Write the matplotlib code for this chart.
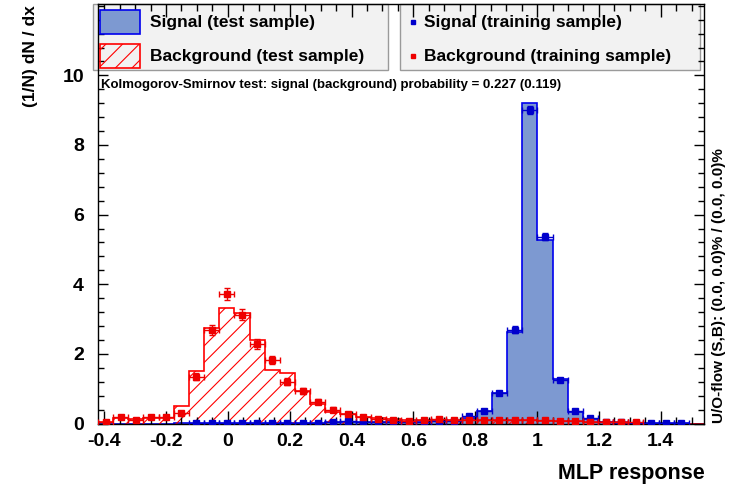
import numpy as np
import matplotlib
matplotlib.use("Agg")
import matplotlib.pyplot as plt
from matplotlib.patches import Rectangle
from matplotlib.ticker import MultipleLocator

# ---------------- data ----------------
x_min, x_max, n_bins = -0.42, 1.54, 40

sig_test = [0, 0, 0, 0, 0, 0.005, 0.01, 0.01, 0.01, 0.01,
            0.01, 0.01, 0.01, 0.01, 0.02, 0.03, 0.04, 0.04, 0.04, 0.04,
            0.04, 0.05, 0.06, 0.08, 0.17, 0.37, 0.87, 2.62, 9.20, 5.27,
            1.27, 0.34, 0.13, 0.04, 0.02, 0.01, 0.005, 0.005, 0.005, 0]
sig_train = [0, 0, 0, 0, 0, 0, 0.01, 0.01, 0.01, 0.02,
             0.02, 0.02, 0.02, 0.02, 0.02, 0.04, 0.06, 0.05, 0.04, 0.05,
             0.04, 0.05, 0.06, 0.08, 0.22, 0.37, 0.87, 2.70, 9.00, 5.37,
             1.25, 0.36, 0.15, 0.05, 0.03, 0.02, 0.01, 0.01, 0.01, 0]
sig_train_err = [0, 0, 0, 0, 0, 0, 0.01, 0.01, 0.01, 0.01,
                 0.01, 0.01, 0.01, 0.01, 0.01, 0.02, 0.02, 0.02, 0.02, 0.02,
                 0.02, 0.02, 0.02, 0.03, 0.04, 0.05, 0.06, 0.09, 0.12, 0.10,
                 0.05, 0.04, 0.03, 0.02, 0.02, 0.01, 0.01, 0.01, 0.01, 0]
bkg_test = [0.05, 0.15, 0.12, 0.17, 0.17, 0.50, 1.52, 2.75, 3.33, 3.17,
            2.40, 1.54, 1.46, 0.94, 0.55, 0.34, 0.26, 0.20, 0.15, 0.12,
            0.10, 0.10, 0.10, 0.10, 0.10, 0.10, 0.09, 0.09, 0.09, 0.08,
            0.06, 0.06, 0.05, 0.04, 0.03, 0.02, 0, 0, 0, 0]
bkg_train = [0.03, 0.18, 0.10, 0.19, 0.19, 0.31, 1.35, 2.69, 3.71, 3.12,
             2.28, 1.82, 1.20, 0.93, 0.63, 0.40, 0.27, 0.19, 0.14, 0.10,
             0.07, 0.10, 0.12, 0.10, 0.10, 0.10, 0.10, 0.10, 0.10, 0.09,
             0.06, 0.06, 0.05, 0.05, 0.05, 0.04, 0, 0, 0, 0]
bkg_train_err = [0.02, 0.04, 0.03, 0.04, 0.04, 0.05, 0.10, 0.15, 0.17, 0.16,
                 0.14, 0.12, 0.10, 0.09, 0.07, 0.06, 0.05, 0.04, 0.03, 0.03,
                 0.03, 0.03, 0.03, 0.03, 0.03, 0.03, 0.03, 0.03, 0.03, 0.03,
                 0.02, 0.02, 0.02, 0.02, 0.02, 0.02, 0, 0, 0, 0]

x_ticks = [-0.4, -0.2, 0, 0.2, 0.4, 0.6, 0.8, 1, 1.2, 1.4]
x_tick_labels = ["-0.4", "-0.2", "0", "0.2", "0.4", "0.6", "0.8", "1", "1.2", "1.4"]
y_ticks = [0, 2, 4, 6, 8, 10]

ks_text = "Kolmogorov-Smirnov test: signal (background) probability = 0.227 (0.119)"
of_text = "U/O-flow (S,B): (0.0, 0.0)% / (0.0, 0.0)%"

# ---------------- style ----------------
W, H = 730, 484
plt.rcParams['font.family'] = ['Liberation Sans', 'DejaVu Sans']
SIG_FILL = "#7d99d1"
SIG_LINE = "#0000ee"
BKG_LINE = "#ff0000"

fig = plt.figure(figsize=(W / 100, H / 100), dpi=100)
L, R, B, T = 98, 704, 423.5, 4
ax = fig.add_axes([L / W, 1 - B / H, (R - L) / W, (B - T) / H])

edges = np.linspace(x_min, x_max, n_bins + 1)
centers = 0.5 * (edges[:-1] + edges[1:])
bw = edges[1] - edges[0]

ax.stairs(sig_test, edges, fill=True, facecolor=SIG_FILL, edgecolor="none", zorder=1)
ax.stairs(sig_test, edges, fill=False, color=SIG_LINE, lw=1.2, zorder=1.1)
plt.rcParams['hatch.linewidth'] = 0.8
ax.stairs(bkg_test, edges, fill=True, facecolor="none", edgecolor=BKG_LINE,
          hatch="//", lw=0, zorder=1.2)
ax.stairs(bkg_test, edges, fill=False, color=BKG_LINE, lw=1.2, zorder=1.3)

st = np.array(sig_train); se = np.array(sig_train_err)
m = st > 0
ax.errorbar(centers[m], st[m], xerr=bw / 2, yerr=se[m], fmt="s", ms=4.5,
            color="#0000cc", ecolor="#0000cc", elinewidth=1, capsize=2, capthick=1, zorder=3)
bt = np.array(bkg_train); be = np.array(bkg_train_err)
m = bt > 0
ax.errorbar(centers[m], bt[m], xerr=bw / 2, yerr=be[m], fmt="s", ms=4.5,
            color="#ee0000", ecolor="#ee0000", elinewidth=1, capsize=2, capthick=1, zorder=3.1)

ax.set_xlim(x_min, x_max)
ax.set_ylim(0, 12.05)
ax.set_xticks(x_ticks)
ax.set_xticklabels(x_tick_labels)
ax.set_yticks(y_ticks)
ax.xaxis.set_minor_locator(MultipleLocator(0.05))
ax.yaxis.set_minor_locator(MultipleLocator(0.4))
ax.tick_params(axis="x", which="major", direction="in", length=9.5, width=1,
               top=True, bottom=True, pad=6.5, labelsize=14)
ax.tick_params(axis="x", which="minor", direction="in", length=5, width=1, top=True, bottom=True)
ax.tick_params(axis="y", which="major", direction="in", length=7.5, width=1,
               left=True, right=True, pad=10, labelsize=14)
ax.tick_params(axis="y", which="minor", direction="in", length=4, width=1, left=True, right=True)
for lab in ax.get_xticklabels() + ax.get_yticklabels():
    lab.set_fontweight("bold")
for s in ax.spines.values():
    s.set_linewidth(1)

def fx(px):
    return px / W

def fy(py):
    return 1 - py / H

fig.text(fx(30), fy(5), "(1/N) dN / dx", rotation=90, ha="center", va="top",
         fontsize=12.5, fontweight="bold")
fig.text(fx(705), fy(479), "MLP response", ha="right", va="baseline",
         fontsize=15.5, fontweight="bold")
fig.text(fx(719), fy(423), of_text, rotation=90, ha="center", va="bottom",
         fontsize=11, fontweight="bold")

# legend boxes
for (x0, x1) in [(93, 388), (400, 700)]:
    fig.patches.append(Rectangle((fx(x0), fy(70)), fx(x1) - fx(x0), fy(4) - fy(70),
                                 transform=fig.transFigure, facecolor="#f2f2f2",
                                 edgecolor="#9a9a9a", lw=1, zorder=0.5))
ax.set_zorder(1)
ax.patch.set_alpha(0)
fig.patch.set_facecolor("white")

fig.patches.append(Rectangle((fx(100), fy(34)), fx(140) - fx(100), fy(10) - fy(34),
                             transform=fig.transFigure, facecolor=SIG_FILL,
                             edgecolor=SIG_LINE, lw=1.2, zorder=2))
fig.patches.append(Rectangle((fx(100), fy(68)), fx(140) - fx(100), fy(44) - fy(68),
                             transform=fig.transFigure, facecolor="none",
                             edgecolor=BKG_LINE, hatch="//", lw=1.2, zorder=2))
fig.text(fx(150), fy(22), "Signal (test sample)", ha="left", va="center",
         fontsize=12.5, fontweight="bold")
fig.text(fx(150), fy(56), "Background (test sample)", ha="left", va="center",
         fontsize=12.5, fontweight="bold")
fig.lines.append(plt.Line2D([fx(413)], [fy(22)], marker="s", ms=3.5, color="#0000cc",
                            transform=fig.transFigure))
fig.lines.append(plt.Line2D([fx(413)], [fy(56)], marker="s", ms=3.5, color="#ee0000",
                            transform=fig.transFigure))
fig.text(fx(424), fy(22), "Signal (training sample)", ha="left", va="center",
         fontsize=12.5, fontweight="bold")
fig.text(fx(424), fy(56), "Background (training sample)", ha="left", va="center",
         fontsize=12.5, fontweight="bold")

fig.text(fx(101), fy(85), ks_text, ha="left", va="center", fontsize=9.5, fontweight="bold")

fig.savefig("out.png", dpi=100)
